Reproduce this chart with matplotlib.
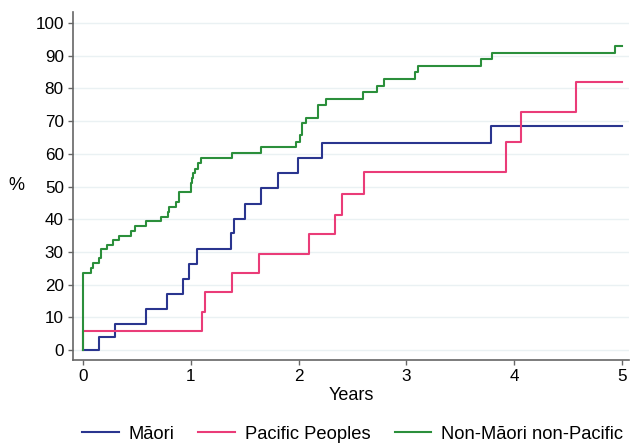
import matplotlib.pyplot as plt

plt.rcParams['font.family'] = ['Liberation Sans', 'DejaVu Sans']

# step times (years) and cumulative % for each group
maori_t = [0, 0.149, 0.294, 0.58, 0.773, 0.922, 0.984, 1.058, 1.376, 1.40, 1.506, 1.646, 1.81, 1.995, 2.22, 3.79, 5.0]
maori_y = [0, 3.9, 7.8, 12.5, 17.1, 21.7, 26.3, 31.0, 35.7, 40.2, 44.8, 49.4, 54.2, 58.8, 63.4, 68.6, 68.6]

pacific_t = [0, 0, 1.104, 1.135, 1.38, 1.633, 2.097, 2.34, 2.40, 2.61, 3.93, 4.07, 4.58, 5.0]
pacific_y = [0, 5.9, 11.7, 17.6, 23.6, 29.5, 35.4, 41.4, 47.8, 54.4, 63.6, 72.8, 82.0, 82.0]

other_t = [0, 0, 0.074, 0.09, 0.15, 0.167, 0.22, 0.276, 0.33, 0.445, 0.477, 0.585, 0.724, 0.786, 0.80,
           0.863, 0.885, 0.996, 1.01, 1.02, 1.036, 1.067, 1.09, 1.377, 1.655, 1.98, 2.017, 2.03, 2.07,
           2.18, 2.25, 2.6, 2.73, 2.79, 3.08, 3.11, 3.69, 3.8, 4.94, 5.0]
other_y = [0, 23.6, 25.1, 26.5, 28.0, 30.8, 32.1, 33.6, 35.0, 36.5, 37.9, 39.4, 40.8, 42.3, 43.6,
           45.2, 48.2, 51.0, 52.5, 54.0, 55.5, 57.2, 58.8, 60.3, 62.0, 63.7, 65.7, 69.3, 71.0,
           74.9, 76.8, 79.0, 80.9, 83.0, 85.1, 86.9, 88.9, 90.9, 92.9, 92.9]

labels = ['Māori', 'Pacific Peoples', 'Non-Māori non-Pacific']
colors = ['#2a358f', '#ea3c78', '#2b8f3b']

fig = plt.figure(figsize=(6.32, 4.43), dpi=100)
ax = fig.add_axes([0.1155, 0.1874, 0.88, 0.7856])

ax.plot(maori_t, maori_y, drawstyle='steps-post', color=colors[0], lw=1.5, label=labels[0])
ax.plot(pacific_t, pacific_y, drawstyle='steps-post', color=colors[1], lw=1.5, label=labels[1])
ax.plot(other_t, other_y, drawstyle='steps-post', color=colors[2], lw=1.5, label=labels[2])

ax.set_xlim(-0.0955, 5.07)
ax.set_ylim(-3.06, 103.4)
ax.set_xticks(range(0, 6))
ax.set_yticks(range(0, 101, 10))
ax.yaxis.grid(True, color='#eaf1f3', lw=1.0)
ax.set_axisbelow(True)

for s in ['top', 'right']:
    ax.spines[s].set_visible(False)
for s in ['left', 'bottom']:
    ax.spines[s].set_color('#666666')
    ax.spines[s].set_linewidth(1.2)
ax.tick_params(direction='out', length=3.6, width=1, color='#666666', labelsize=12.3, pad=3)

ax.set_xlabel('Years', fontsize=13, labelpad=2)
ax.set_ylabel('%', fontsize=13, rotation=0, labelpad=14, va='center')

fig.legend(loc='lower center', bbox_to_anchor=(0.558, -0.037), ncol=3, frameon=False,
           fontsize=13.2, handlelength=2.0, columnspacing=1.3, handletextpad=0.55)

fig.savefig('out.png', dpi=100)
